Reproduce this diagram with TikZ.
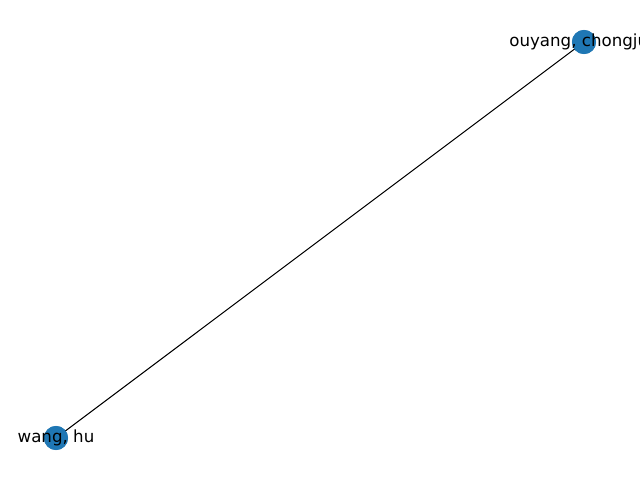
\documentclass[tikz,border=0pt]{standalone}
\usepackage{fontspec}
\setmainfont{DejaVu Sans}
\definecolor{nodeblue}{HTML}{1F77B4}
\tikzset{
  vertex/.style={circle, fill=nodeblue, draw=none, minimum size=17.3pt, inner sep=0pt},
  vlabel/.style={font=\fontsize{12pt}{14pt}\selectfont, inner sep=0pt, text=black},
  edge/.style={draw=black, line width=0.72pt}
}
\begin{document}
\begin{tikzpicture}[x=1pt,y=1pt]
\useasboundingbox (0,0) rectangle (460.8,345.6);
\clip (0,0) rectangle (460.8,345.6);
\fill[white] (0,0) rectangle (460.8,345.6);
\node[vertex] (a) at (420.48,315.36) {};
\node[vertex] (b) at (40.32,30.24) {};
\draw[edge] (a.center) -- (b.center);
\node[vertex] at (a.center) {};
\node[vertex] at (b.center) {};
\node[vlabel] (la) at (a.center) {ouyang, chongjun};
\node[vlabel] (lb) at (b.center) {wang, hu};
\end{tikzpicture}
\end{document}
